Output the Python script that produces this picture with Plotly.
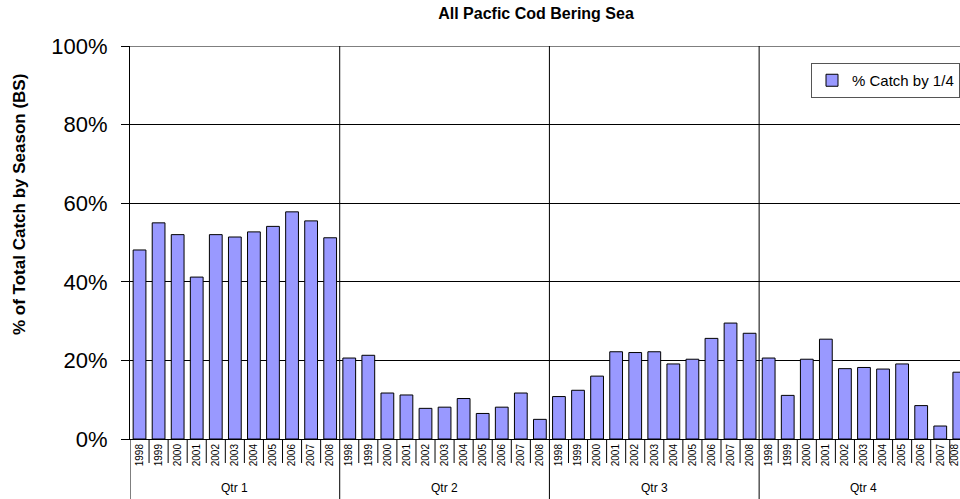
import plotly.graph_objects as go

# Share of the annual Bering Sea Pacific cod catch taken in each quarter
quarters = ["Qtr 1", "Qtr 2", "Qtr 3", "Qtr 4"]
years = ["1998", "1999", "2000", "2001", "2002", "2003",
         "2004", "2005", "2006", "2007", "2008"]

qtr1 = [48.1, 55.0, 52.0, 41.2, 52.0, 51.4, 52.7, 54.1, 57.8, 55.5, 51.2]
qtr2 = [20.6, 21.3, 11.7, 11.2, 7.8, 8.1, 10.3, 6.5, 8.1, 11.7, 5.0]
qtr3 = [10.8, 12.4, 16.0, 22.2, 22.0, 22.2, 19.1, 20.3, 25.6, 29.5, 26.9]
qtr4 = [20.6, 11.1, 20.3, 25.4, 17.9, 18.2, 17.8, 19.1, 8.5, 3.3, 17.0]

series = [qtr1, qtr2, qtr3, qtr4]
pct = [v / 100 for s in series for v in s]
n_years = len(years)
n_cat = len(pct)
idx = list(range(n_cat))
year_text = years * len(quarters)

FONT = "Liberation Sans, Arial, sans-serif"
W, H = 960, 499
M_L, M_R, M_T, M_B = 130, 0, 46, 60
plot_h = H - M_T - M_B

# the category strip runs slightly past the right edge of the page
x_max = (960 - 130.2) / 19.06 - 0.5
# keep the outermost year label inside the page
label_pos = [min(i, x_max - 0.28) for i in idx]

fig = go.Figure()
fig.add_trace(go.Bar(
    x=idx, y=pct, name="% Catch by 1/4",
    marker=dict(color="#9999FF", line=dict(color="#000000", width=1)),
    hovertext=[f"{q} {y}" for q in quarters for y in years],
))

shapes = []
annotations = []
bottom = -M_B / plot_h
# boundaries between quarters run through the plot and down to the page bottom
for g in range(len(quarters)):
    xb = g * n_years - 0.5
    shapes.append(dict(type="line", xref="x", yref="paper", x0=xb, x1=xb,
                       y0=bottom, y1=0 if g == 0 else 1,
                       line=dict(color="black", width=1)))
# short dividers between year cells
for i in range(n_cat):
    if (i + 1) % n_years == 0:
        continue
    xb = i + 0.5
    shapes.append(dict(type="line", xref="x", yref="paper", x0=xb, x1=xb,
                       y0=-24 / plot_h, y1=0, line=dict(color="black", width=1)))
# top gridline at 100%
shapes.append(dict(type="line", xref="paper", yref="y", x0=-8 / (W - M_L), x1=1,
                   y0=1, y1=1, line=dict(color="black", width=1)))

for g, q in enumerate(quarters):
    annotations.append(dict(x=g * n_years + (n_years - 1) / 2, y=(439 - 488) / plot_h,
                            xref="x", yref="paper", text=q, showarrow=False,
                            font=dict(family=FONT, size=12, color="black"),
                            xanchor="center", yanchor="middle"))

annotations.append(dict(x=(19 - M_L) / (W - M_L), y=(439 - 205) / plot_h,
                        xref="paper", yref="paper", textangle=-90,
                        text="<b>% of Total Catch by Season (BS)</b>", showarrow=False,
                        font=dict(family=FONT, size=17, color="black"),
                        xanchor="center", yanchor="middle"))

fig.update_layout(
    width=W, height=H,
    margin=dict(l=M_L, r=M_R, t=M_T, b=M_B, pad=0, autoexpand=False),
    paper_bgcolor="white", plot_bgcolor="white",
    title=dict(text="<b>All Pacfic Cod Bering Sea</b>", x=536 / W, xref="container",
               y=1 - 13 / H, yref="container", xanchor="center", yanchor="middle",
               font=dict(family=FONT, size=16, color="black")),
    bargap=0.33,
    showlegend=True,
    legend=dict(x=1, xanchor="right", y=(439 - 63) / plot_h, yanchor="top",
                bgcolor="white", bordercolor="#555555", borderwidth=1,
                font=dict(family=FONT, size=15, color="black"),
                itemwidth=30, tracegroupgap=0),
    shapes=shapes, annotations=annotations,
    xaxis=dict(range=[-0.5, x_max],
               tickmode="array", tickvals=label_pos, ticktext=year_text,
               tickangle=-90, ticks="", showgrid=False, zeroline=False,
               showline=True, linecolor="black", linewidth=1,
               ticklabeloverflow="allow", automargin=False,
               tickfont=dict(family=FONT, size=10, color="black"), fixedrange=True),
    yaxis=dict(range=[0, 1], tickmode="array", tickvals=[0, 0.2, 0.4, 0.6, 0.8, 1.0],
               tickformat=".0%", ticks="outside", ticklen=8, tickcolor="black",
               showgrid=True, gridcolor="black", gridwidth=1, zeroline=False,
               showline=True, linecolor="black", linewidth=1,
               ticklabelstandoff=9, automargin=False,
               tickfont=dict(family=FONT, size=22, color="black"), fixedrange=True),
)

fig.write_html("out.html")
